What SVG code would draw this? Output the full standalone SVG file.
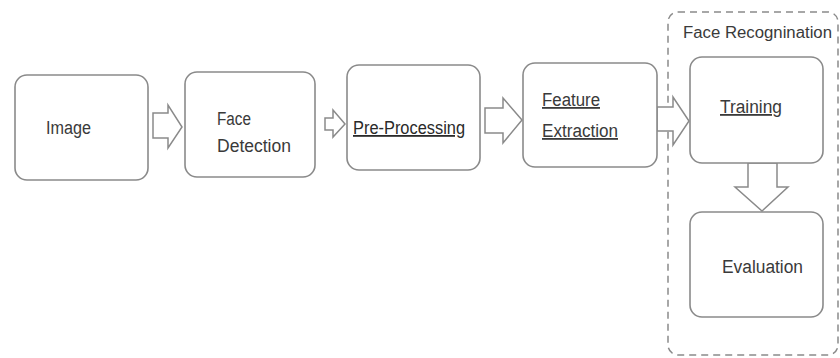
<svg xmlns="http://www.w3.org/2000/svg" width="840" height="358" viewBox="0 0 840 358">
<style>
.box{fill:#fff;stroke:#8a8a8a;stroke-width:1.6}
.arr{fill:#fff;stroke:#8a8a8a;stroke-width:1.5;stroke-linejoin:miter}
.t{font-family:"Liberation Sans",Arial,sans-serif;font-size:18px;fill:#3a3a3a}
.u{text-decoration:underline}
.grp{fill:none;stroke:#8a8a8a;stroke-width:1.5;stroke-dasharray:7,5}
</style>
<rect width="840" height="358" fill="#fff"/>
<g id="face-recognition-group">
<rect class="grp" x="668" y="12" width="170" height="343" rx="10"/>
<text class="t" x="683" y="38" font-size="16" textLength="149" lengthAdjust="spacingAndGlyphs" style="font-size:16px">Face Recognination</text>
</g>
<g id="connectors">
<polygon class="arr" points="153,113 168,113 168,105 182,127 168,148 168,138 153,138"/>
<polygon class="arr" points="325,118 333,118 333,110 345,124 333,137 333,130 325,130"/>
<polygon class="arr" points="485,108 503,108 503,98 522,120 503,143 503,133 485,133"/>
<polygon class="arr" points="657,107 673,107 673,97 689,121 673,145 673,131 657,131"/>
<polygon class="arr" points="748,163 777,163 777,187 788,187 762,211 735,187 748,187"/>
</g>
<g id="image">
<rect class="box" x="15" y="75" width="133" height="105" rx="12"/>
<text class="t" x="46" y="134" textLength="45" lengthAdjust="spacingAndGlyphs">Image</text>
</g>
<g id="face-detection">
<rect class="box" x="185" y="72" width="130" height="105" rx="12"/>
<text class="t" x="217" y="125" textLength="34" lengthAdjust="spacingAndGlyphs">Face</text>
<text class="t" x="217" y="152" textLength="74" lengthAdjust="spacingAndGlyphs">Detection</text>
</g>
<g id="pre-processing">
<rect class="box" x="347" y="65" width="133" height="105" rx="12"/>
<text class="t u" x="353" y="134" textLength="112" lengthAdjust="spacingAndGlyphs" style="fill:#2a2a2a">Pre-Processing</text>
</g>
<g id="feature-extraction">
<rect class="box" x="523" y="63" width="134" height="104" rx="12"/>
<text class="t u" x="542" y="106" textLength="58" lengthAdjust="spacingAndGlyphs">Feature</text>
<text class="t u" x="542" y="137" textLength="76" lengthAdjust="spacingAndGlyphs">Extraction</text>
</g>
<g id="training">
<rect class="box" x="690" y="57" width="133" height="106" rx="12"/>
<text class="t u" x="720" y="113" textLength="62" lengthAdjust="spacingAndGlyphs">Training</text>
</g>
<g id="evaluation">
<rect class="box" x="690" y="212" width="133" height="105" rx="12"/>
<text class="t" x="722" y="273" textLength="81" lengthAdjust="spacingAndGlyphs">Evaluation</text>
</g>
</svg>
